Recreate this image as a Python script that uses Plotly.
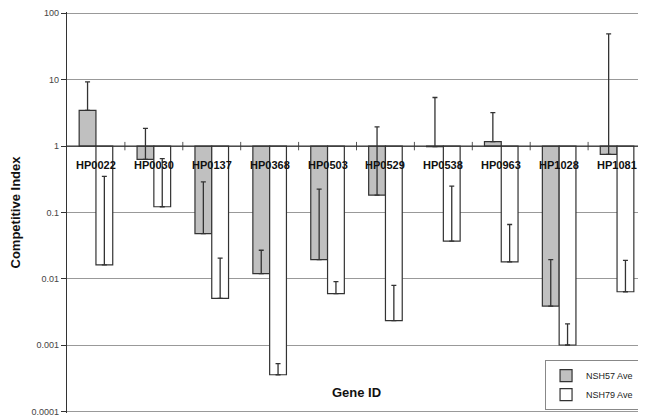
import plotly.graph_objects as go
import numpy as np

genes = ["HP0022", "HP0030", "HP0137", "HP0368", "HP0503",
         "HP0529", "HP0538", "HP0963", "HP1028", "HP1081"]
nsh57 = [3.45, 0.63, 0.048, 0.012, 0.0195, 0.183, 0.98, 1.17, 0.0039, 0.75]
nsh57_err_top = [9.3, 1.85, 0.29, 0.027, 0.225, 1.95, 5.4, 3.2, 0.0195, 49.0]
nsh79 = [0.0163, 0.122, 0.0051, 0.00036, 0.006, 0.00235, 0.037, 0.018, 0.00101, 0.0064]
nsh79_err_top = [0.35, 0.65, 0.0205, 0.00053, 0.0091, 0.008, 0.25, 0.066, 0.0021, 0.019]
y_ticks = [0.0001, 0.001, 0.01, 0.1, 1, 10, 100]
y_tick_text = ["0.0001", "0.001", "0.01", "0.1", "1", "10", "100"]
series_names = ["NSH57 Ave", "NSH79 Ave"]

BASE = 1.0
FONT = "Arial, Liberation Sans, sans-serif"
bar_w = 0.29
off = 0.145
idx = np.arange(len(genes))

fig = go.Figure()

for vals, errs, name, color, sgn in [
    (nsh57, nsh57_err_top, series_names[0], "#c0c0c0", -1),
    (nsh79, nsh79_err_top, series_names[1], "#ffffff", 1),
]:
    v = np.array(vals)
    xs = idx + sgn * off
    fig.add_trace(go.Bar(
        x=xs, y=v - BASE, base=BASE, width=bar_w, name=name,
        marker=dict(color=color, line=dict(color="#333333", width=1.2)),
    ))
    fig.add_trace(go.Scatter(
        x=xs, y=v, mode="markers", marker=dict(size=0.1, color="rgba(0,0,0,0)"),
        showlegend=False, hoverinfo="skip",
        error_y=dict(type="data", symmetric=False, array=np.array(errs) - v,
                     arrayminus=np.zeros(len(v)), color="#333333",
                     thickness=1.3, width=2.5),
    ))

# category axis crossing at 1
fig.add_shape(type="line", xref="paper", x0=0, x1=1, yref="y", y0=BASE, y1=BASE,
              line=dict(color="#333333", width=1.2), layer="above")
fig.add_trace(go.Scatter(
    x=idx[:-1] + 0.5, y=[BASE] * (len(genes) - 1), mode="markers",
    marker=dict(symbol="line-ns-open", size=6, color="#555555",
                line=dict(color="#555555", width=1)),
    showlegend=False, hoverinfo="skip"))

for i, g in enumerate(genes):
    fig.add_annotation(x=i, y=np.log10(BASE), xref="x", yref="y", text="<b>" + g + "</b>",
                       showarrow=False, yshift=-19,
                       font=dict(family=FONT, size=11, color="#111111"))

fig.add_annotation(x=0.50, y=0.052, xref="paper", yref="paper", text="<b>Gene ID</b>",
                   showarrow=False, xanchor="center", yanchor="middle",
                   font=dict(family=FONT, size=13, color="#111111"))

# body of the page has an 8px margin, so the figure is 8px smaller with trimmed margins
fig.update_layout(
    width=638, height=409,
    margin=dict(l=56, r=0, t=3, b=4),
    paper_bgcolor="white", plot_bgcolor="white",
    barmode="overlay",
    font=dict(family=FONT, color="#222222"),
    showlegend=True,
    legend=dict(x=0.988, y=0.132, xanchor="right", yanchor="top",
                bordercolor="#888888", borderwidth=1, bgcolor="white",
                font=dict(family=FONT, size=9, color="#222222"),
                tracegroupgap=0, itemwidth=30),
    xaxis=dict(range=[-0.5, len(genes) - 0.5], showticklabels=False, showgrid=False,
               zeroline=False, showline=False, ticks=""),
    yaxis=dict(type="log", range=[-4.02, 2.02], tickvals=y_ticks, ticktext=y_tick_text,
               showgrid=True, gridcolor="#999999", gridwidth=1,
               showline=True, linecolor="#333333", linewidth=1.2,
               ticks="outside", ticklen=5, tickcolor="#333333",
               ticklabeloverflow="allow",
               tickfont=dict(family=FONT, size=9, color="#444444"),
               title=dict(text="<b>Competitive Index</b>",
                          font=dict(family=FONT, size=13, color="#111111"), standoff=14)),
)

fig.write_html("out.html")
